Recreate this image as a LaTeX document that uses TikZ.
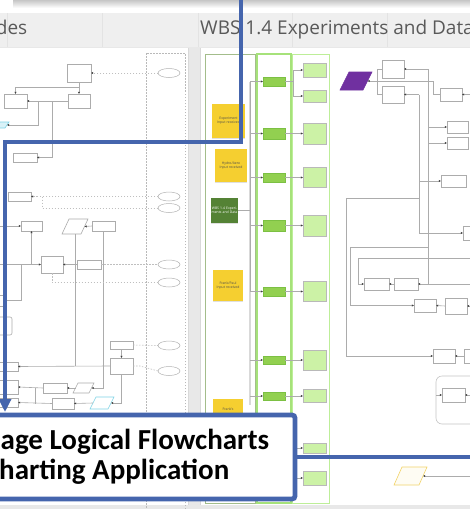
\documentclass[tikz,border=0pt]{standalone}
\usepackage{fontspec}
\setmainfont{Open Sans}
\newfontfamily\carlito{Carlito}
\usetikzlibrary{arrows.meta,shapes.geometric,shadows}
\definecolor{bl}{RGB}{69,101,173}
\definecolor{g2}{HTML}{92D050}
\definecolor{g2d}{HTML}{7CC043}
\definecolor{g3}{HTML}{CCF2A6}
\definecolor{laneA}{HTML}{A3BD8B}
\definecolor{laneB}{HTML}{A6E27A}
\definecolor{laneC}{HTML}{BDEE98}
\definecolor{yel}{HTML}{F5CF30}
\definecolor{dgreen}{HTML}{548235}
\definecolor{purp}{HTML}{7030A0}
\definecolor{hdr}{HTML}{EFEFEF}
\definecolor{gapc}{HTML}{E8E8E8}
\definecolor{ypar}{HTML}{F2D46B}
\definecolor{lbl}{HTML}{7FD3E6}
\newcommand\R[6][]{\node[bx,#1,minimum width={(#5-#3)*1pt},minimum height={(#6-#4)*1pt}] (#2) at ({(#3+#5)/2},{(#4+#6)/2}) {};}
\newcommand\NT[7][]{\node[#1,minimum width={(#5-#3)*1pt},minimum height={(#6-#4)*1pt}] (#2) at ({(#3+#5)/2},{(#4+#6)/2}) {#7};}
% parallelogram: style, name, x1, y1, x2, y2, slant
\newcommand\PG[7][]{\node[inner sep=0pt,outer sep=0pt,minimum width={(#5-#3-#7)*1pt},minimum height={(#6-#4)*1pt}] (#2) at ({(#3+#5)/2},{(#4+#6)/2}) {};
 \draw[pgram,#1] ([xshift={#7/2*1pt}]#2.north west) -- ([xshift={#7/2*1pt}]#2.north east) -- ([xshift={-#7/2*1pt}]#2.south east) -- ([xshift={-#7/2*1pt}]#2.south west) -- cycle;}
\tikzset{
 bx/.style={draw=gray!65,line width=0.6pt,fill=white,inner sep=0pt,outer sep=0pt,rectangle},
 gtwo/.style={bx,draw=g2d,fill=g2},
 gthree/.style={bx,draw=gray!55,fill=g3,line width=0.8pt},
 note/.style={rectangle,inner sep=0pt,outer sep=0pt,fill=yel,text width=27pt,font=\fontsize{3.4}{3.9}\selectfont,text=black!70,align=center,drop shadow={shadow xshift=0.4pt,shadow yshift=-1.2pt,opacity=0.25}},
 ell/.style={ellipse,draw=gray!60,line width=0.5pt,inner sep=0pt,outer sep=0pt,minimum width=22pt,minimum height=9pt,fill=white},
 conn/.style={draw=gray!65,line width=0.6pt},
 arr/.style={conn,-{Latex[length=2.2pt,width=2.2pt,color=black!75]}},
 dsh/.style={draw=gray!50,line width=0.6pt,dash pattern=on 1.5pt off 1.5pt},
 dsharr/.style={dsh,-{Latex[length=2.2pt,width=2.2pt,color=black!75]}},
 pgram/.style={line width=0.6pt,draw=gray!65,fill=white,line join=miter},
 bluepath/.style={draw=bl,line width=4.6pt,line join=miter},
}
\begin{document}
\begin{tikzpicture}[x=1pt,y=-1pt]
\useasboundingbox (0,0) rectangle (470,509);
\clip (0,0) rectangle (470,509);
% ---------- background ----------
\fill[white] (0,0) rectangle (470,509);
\shade[top color=gray!45,bottom color=white] (13,0) rectangle (470,8);
\fill[hdr] (0,13) rectangle (470,47);
\foreach \x in {7,102,198,292,387} \draw[gray!22,line width=0.6pt] (\x,13) -- (\x,47);
\fill[gapc] (0,47) rectangle (470,509);
\fill[white] (0,48) rectangle (188,505);
\fill[white] (200,48) rectangle (470,505);
\draw[gray!30,line width=0.5pt] (188,48) -- (188,505) (200,48) -- (200,505);
\node[anchor=base east,font=\fontsize{19}{19}\selectfont,text=black!65,inner sep=0pt] (hA) at (27.5,34.5) {des};
\node[anchor=base west,font=\fontsize{19}{19}\selectfont,text=black!65,inner sep=0pt] (hB) at (200,34.5) {WBS 1.4 Experiments and Data};
% ---------- left panel ----------
\draw[dsh,draw=gray!55] (146,53) rectangle (185,515);
\node[ell] (e1) at (169,73) {};
\node[ell] (e2) at (169,196.5) {};
\node[ell] (e3) at (169,208) {};
\node[ell] (e4) at (169,264.5) {};
\node[ell] (e5) at (169,282.5) {};
\node[ell] (e6) at (169,345.5) {};
\node[ell] (e7) at (169,371) {};
\R{sk}{67}{64}{91}{82}
\R{L1}{4}{94}{27}{108}
\R{L2}{68}{94}{90}{108}
\PG[draw=lbl,fill=lbl!30]{pb1}{(-4)}{122}{9}{128}{4}
\R{B3}{13}{153}{37}{162}
\R{M}{8}{192}{31}{201}
\R{N}{21}{221}{42}{231}
\PG{P1}{62}{219}{88}{234}{7}
\R{O}{92}{221}{115}{231}
\R{Q}{41}{256}{63}{273}
\R{Rb}{77}{260}{101}{269}
\R{X1}{(-5)}{295}{3}{306}
\R[rounded corners=2pt]{X2}{(-5)}{317}{12}{335}
\R{X3}{(-5)}{362}{18}{371}
\R{X4}{(-5)}{380}{18}{394}
\R{X5}{(-5)}{398}{18}{407}
\R{S}{110}{341}{133}{349}
\R{T}{110}{358}{133}{374}
\R{U}{43}{383}{67}{393}
\PG{P3}{73}{383}{94}{393}{5}
\R{V}{52}{398}{74}{409}
\PG[draw=lbl]{P4}{90}{397}{114}{409}{6}
% left connectors
\draw[dsharr] (e1.west) -- (sk.east);
\draw[arr] (sk.south) -- (L2.north);
\coordinate (j1) at (79,87);
\draw[arr] (j1) -| (L1.north);
\draw[arr] (L2.west) -- (L1.east);
\coordinate (j2) at (38,101);
\coordinate (j3) at (52,101);
\draw[arr] (j2) |- (pb1.east);
\draw[arr] (j3) |- (B3.east);
\draw[dsharr] (e2.west) -- (M.east);
\coordinate (j4) at (42,196.5);
\draw[dsh] (j4) |- (e3.west);
\coordinate (lf1) at (-2,226);
\draw[arr] (lf1) -- (N.west);
\draw[arr] (O.west) -- (P1.east);
\draw[conn] (P1.south) -- (P1.south |- T.west);
\draw[arr] (O.south) |- (P3.east);
\coordinate (lf2) at (-2,264.5);
\draw[arr] (lf2) -- (Q.west);
\draw[arr] (Rb.west) -- (Q.east);
\draw[dsh] (Rb.east) -- (e4.west);
\coordinate (j5) at (31.5,264.5);
\draw[arr] (j5) -- (N.south);
\coordinate (j6) at (21,264.5);
\draw[arr] (j6) |- (X1.east);
\draw[dsh] (Q.south) |- (e5.west);
\draw[arr] (S.south) -- (T.north);
\draw[dsh] (S.east) -- (e6.west);
\coordinate (j7) at (140,366);
\draw[dsh] (T.east) -- (j7) -- (e7.west);
\draw[arr] (T.west) -- (X3.east);
\draw[arr] (P3.west) -- (U.east);
\draw[arr] (U.west) -- (X4.east);
\draw[arr] (V.west) -- (X5.east);
\coordinate (j8) at (35,388);
\draw[conn] (j8) -- (35,403.5);
\draw[arr] (P4.west) -- (V.east);
\draw[arr] (T.south) |- (P4.east);
% ---------- right panel lanes ----------
\draw[laneA,line width=0.8pt] (205,54) rectangle (255,503);
\draw[laneB,line width=1.1pt] (257,54) rectangle (291,503);
\draw[laneC,line width=0.8pt] (292,54) rectangle (329,503);
\NT[note]{n1}{212}{104}{245}{138}{Experiment Input received}
\NT[note]{n2}{215}{149}{247}{182}{Hydro/Aero Input received}
\NT[note,fill=dgreen,text=white]{n3}{211}{198}{238}{223}{WBS 1.4 Experiments and Data}
\NT[note]{n4}{213}{270}{243}{301}{Frank/Paul Input received}
\NT[note]{n5}{213}{399}{243}{420}{Frank's}
\R[gtwo]{a1}{263}{77}{285}{86}
\R[gtwo]{a2}{263}{128}{285}{139}
\R[gtwo]{a3}{263}{173}{285}{182}
\R[gtwo]{a4}{263}{220}{285}{231}
\R[gtwo]{a5}{263}{287}{285}{296}
\R[gtwo]{a6}{263}{356}{285}{364}
\R[gtwo]{a7}{263}{392}{285}{400}
\R[gthree]{b1}{303}{63}{326}{77}
\R[gthree]{b2}{303}{90}{326}{102}
\R[gthree]{b3}{303}{123}{326}{144}
\R[gthree]{b4}{303}{167}{326}{187}
\R[gthree]{b5}{303}{215}{326}{236}
\R[gthree]{b6}{303}{281}{326}{301}
\R[gthree]{b7}{303}{350}{326}{370}
\R[gthree]{b8}{303}{389}{326}{402}
\R[gthree]{b9}{303}{443}{326}{453}
\R[gthree]{b10}{303}{471}{326}{485}
\coordinate (tk) at (250,81.5);
\draw[draw=gray!30,line width=1.6pt] (tk) -- (250,405);
\draw[conn] (tk) -- (250,291.5);
\draw[arr] (tk) -- (a1.west);
\foreach \n in {a2,a3,a4,a5,a6,a7} \draw[arr] (\n.west -| tk) -- (\n.west);
\draw[conn] (n3.east) -- (n3.east -| tk);
\coordinate (fk) at (293,81.5);
\draw[conn] (a1.east) -- (fk);
\draw[arr] (fk) |- (b1.west);
\draw[arr] (fk) |- (b2.west);
\draw[arr] (a2.east) -- (b3.west);
\draw[arr] (a3.east) -- (a3.east -| b4.west);
\draw[arr] (a4.east) -- (b5.west);
\draw[arr] (a5.east) -- (a5.east -| b6.west);
\draw[arr] (a6.east) -- (b7.west);
\draw[arr] (a7.east) -- (a7.east -| b8.west);
\coordinate (lb9) at (296,448);
\coordinate (lb10) at (296,478);
\draw[arr] (lb9) -- (b9.west);
\draw[arr] (lb10) -- (b10.west);
% ---------- right flowchart ----------
\PG[draw=purp,fill=purp]{pp}{340}{72}{372}{90}{9}
\R{A}{382}{60}{404}{78}
\R{B}{382}{86}{404}{103}
\R{C}{440}{88}{462}{101}
\R{D}{447}{121}{468}{133}
\R{E}{447}{137}{468}{149}
\R{F}{441}{175}{466}{187}
\R{G}{463}{226}{480}{240}
\R{H}{364}{278}{389}{290}
\R{I}{394}{278}{418}{290}
\R{J}{414}{299}{436}{312}
\R{K}{445}{298}{467}{314}
\R{Lb}{433}{349}{455}{363}
\R{Lc}{464}{349}{482}{363}
\R[rounded corners=6pt,draw=gray!45]{grp}{436}{376}{482}{424}
\R{M2}{442}{388}{465}{402}
\PG[draw=ypar,fill=ypar!8]{yp}{394}{467}{427}{485}{8}
\draw[conn] (A.west) -- (377,69) -- (377,94.5) -- (B.west);
\draw[arr] (C.west) -- (433,94.5) -- (433,81) -- (pp.east);
\coordinate (re1) at (475,94.5);
\draw[arr] (re1) -- (C.east);
\coordinate (tA) at (428,69);
\draw[conn] (tA) -- (428,284);
\draw[arr] (tA) -- (A.east);
\draw[arr] (428,127) -- (D.west);
\draw[arr] (428,143) -- (E.west);
\coordinate (re3) at (475,284);
\draw[arr] (re3) -- (I.east);
\coordinate (tB) at (419,94.5);
\draw[arr] (tB) -- (B.east);
\draw[arr] (tB) |- (G.west);
\draw[arr] (419,181) -- (F.west);
\coordinate (j9) at (346,198);
\draw[conn] (419,198) -- (j9);
\draw[arr] (j9) |- (Lb.west);
\draw[arr] (428,247) -- (350,247) |- (J.west);
\coordinate (re4) at (475,258);
\draw[arr] (re4) -- (358,258) |- (H.west);
\draw[arr] (I.west) -- (H.east);
\draw[arr] (K.west) -- (J.east);
\coordinate (re5) at (475,306);
\draw[arr] (re5) -- (K.east);
\draw[arr] (Lc.west) -- (Lb.east);
\draw[arr] (grp.west |- M2.west) -- (M2.west);
\coordinate (re6) at (475,395);
\draw[arr] (re6) -- (M2.east);
\coordinate (re7) at (475,476);
\draw[arr] (re7) -- (yp.east);
% ---------- blue overlay ----------
\coordinate (bA) at (241,-6);
\coordinate (bB) at (241,142);
\coordinate (bC) at (5,142);
\coordinate (bD) at (5,412);
\draw[bluepath,-{Triangle[length=13pt,width=12pt]}] (bA) -- (bB) -- (bC) -- (bD);
\node[draw=bl,line width=4.8pt,fill=white,rounded corners=3pt,inner sep=0pt,minimum width=305pt,minimum height=84pt] (tb) at (142.5,457) {};
\coordinate (bE) at (476,457);
\draw[bluepath] (tb.east) -- (bE);
\node[anchor=base west,font=\carlito\bfseries\fontsize{29}{31}\selectfont,inner sep=0pt] (tA1) at (0.5,449) {age Logical Flowcharts};
\node[anchor=base west,font=\carlito\bfseries\fontsize{29}{31}\selectfont,inner sep=0pt] (tA2) at (-1,479) {harting Application};
\end{tikzpicture}
\end{document}
